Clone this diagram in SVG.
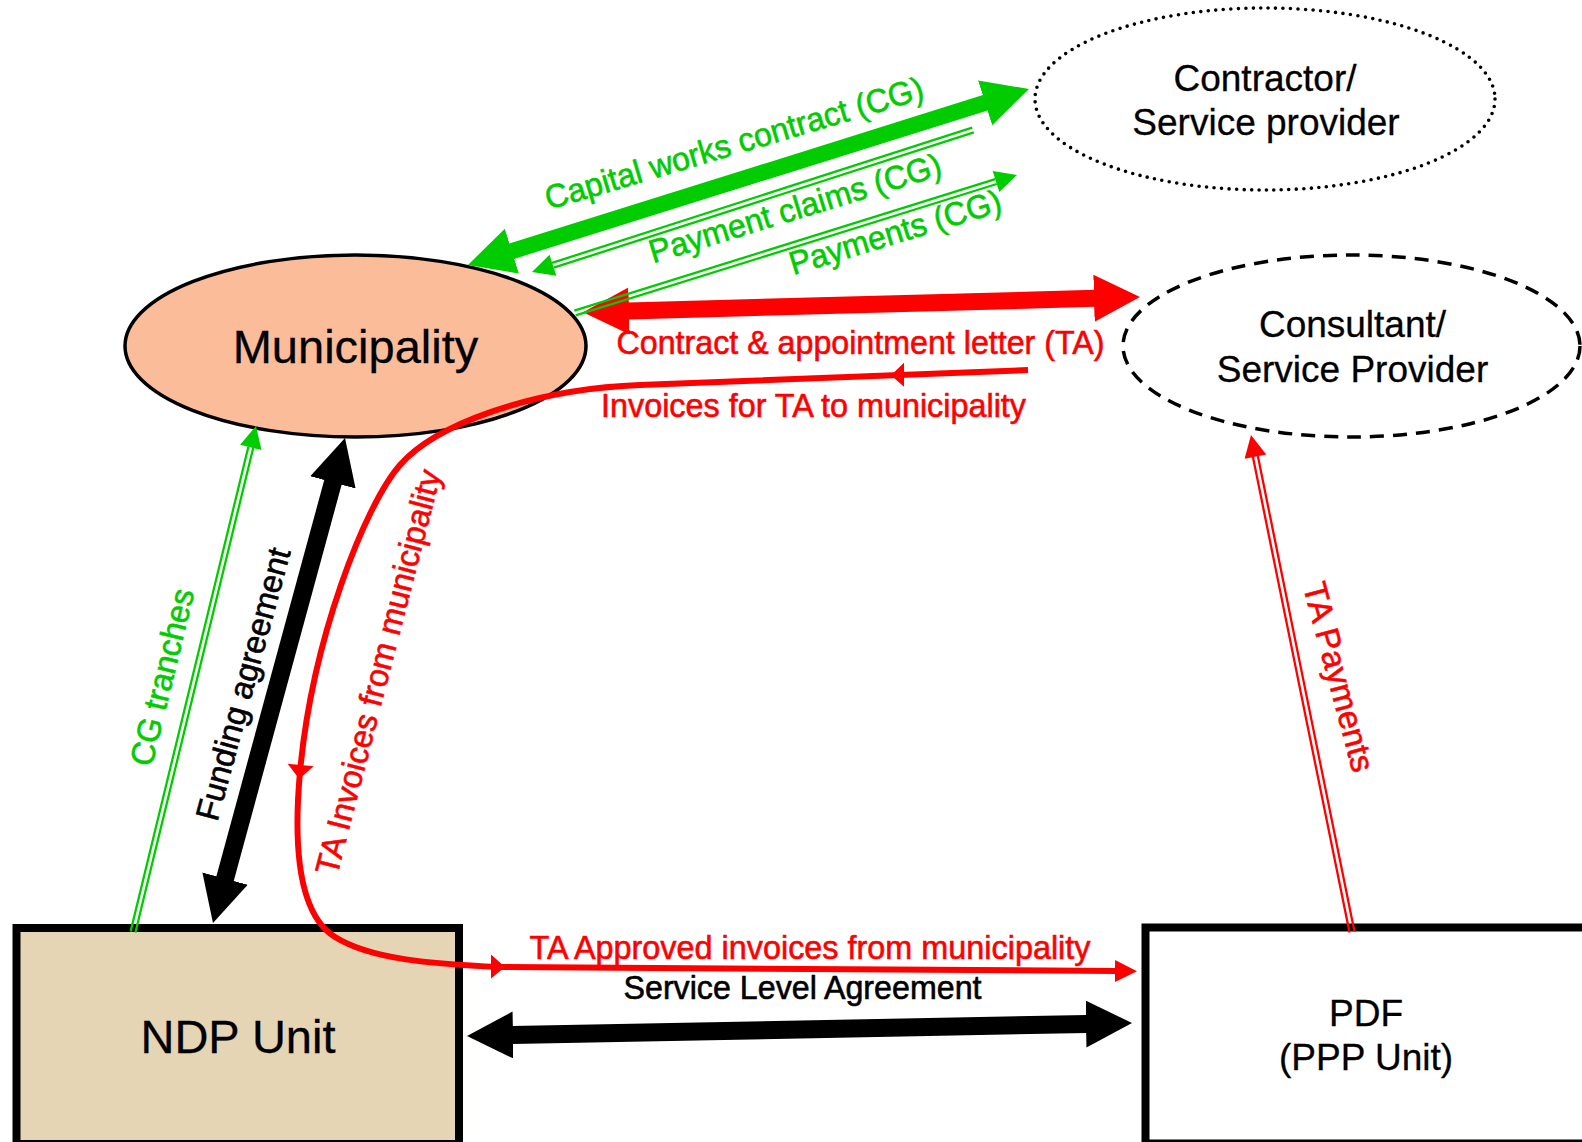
<svg xmlns="http://www.w3.org/2000/svg" width="1582" height="1142" viewBox="0 0 1582 1142">
  <style>
    text { font-family: "Liberation Sans", Arial, Helvetica, sans-serif; text-anchor: middle; }
    .big { font-size: 47px; fill: #000; stroke: #000; stroke-width: 0.3; }
    .mid { font-size: 37px; fill: #000; stroke: #000; stroke-width: 0.3; }
    .lbl { font-size: 33px; stroke-width: 0.6; }
    .g { fill: #00CC00; stroke: #00CC00; }
    .r { fill: #FF0000; stroke: #FF0000; }
    .k { fill: #000; stroke: #000; }
    polygon.g, polygon.r { stroke: none; }
    .shaft-g { fill: none; stroke: #00CC00; stroke-width: 16; }
    .shaft-r { fill: none; stroke: #FF0000; stroke-width: 17; }
    .shaft-k { fill: none; stroke: #000; stroke-width: 18; }
    .thin-g { fill: none; stroke: #00CC00; stroke-width: 2.3; }
    .thin-r { fill: none; stroke: #FF0000; stroke-width: 2.3; }
    .curve-r { fill: none; stroke: #FF0000; stroke-width: 6; }
  </style>
  <defs>
    <marker id="head-g" markerUnits="userSpaceOnUse" viewBox="0 -24 46 48" markerWidth="46" markerHeight="48" refX="1" refY="0" orient="auto-start-reverse">
      <path d="M0,-23.5 L46,0 L0,23.5 Z" fill="#00CC00"/>
    </marker>
    <marker id="head-r" markerUnits="userSpaceOnUse" viewBox="0 -24 46 48" markerWidth="46" markerHeight="48" refX="1" refY="0" orient="auto-start-reverse">
      <path d="M0,-23.5 L46,0 L0,23.5 Z" fill="#FF0000"/>
    </marker>
    <marker id="head-k" markerUnits="userSpaceOnUse" viewBox="0 -24 46 48" markerWidth="46" markerHeight="48" refX="1" refY="0" orient="auto-start-reverse">
      <path d="M0,-23.5 L46,0 L0,23.5 Z" fill="#000"/>
    </marker>
    <marker id="tip-r" markerUnits="userSpaceOnUse" viewBox="0 -12 22 24" markerWidth="22" markerHeight="24" refX="1" refY="0" orient="auto">
      <path d="M0,-11 L22,0 L0,11 Z" fill="#FF0000"/>
    </marker>
  </defs>

  <rect width="1582" height="1142" fill="#fff"/>

  <!-- nodes -->
  <g id="municipality">
    <ellipse cx="355.5" cy="346" rx="230.5" ry="91" fill="#FBBC9A" stroke="#000" stroke-width="3.5"/>
    <text class="big" x="355.5" y="363">Municipality</text>
  </g>
  <g id="contractor">
    <ellipse cx="1265" cy="99" rx="230" ry="91" fill="none" stroke="#000" stroke-width="3.6" stroke-dasharray="0 7.5" stroke-linecap="round"/>
    <text class="mid" x="1265" y="91">Contractor/</text>
    <text class="mid" x="1266" y="135">Service provider</text>
  </g>
  <g id="consultant">
    <ellipse cx="1351.5" cy="346" rx="228.5" ry="91" fill="none" stroke="#000" stroke-width="3.5" stroke-dasharray="14 9"/>
    <text class="mid" x="1352.5" y="337">Consultant/</text>
    <text class="mid" x="1352.5" y="382">Service Provider</text>
  </g>
  <g id="ndp-unit">
    <rect x="16.5" y="928" width="442.5" height="216" fill="#E5D5B4" stroke="#000" stroke-width="8"/>
    <text class="big" x="238" y="1053">NDP Unit</text>
  </g>
  <g id="pdf">
    <rect x="1145.5" y="927.5" width="450" height="216" fill="#fff" stroke="#000" stroke-width="8"/>
    <text class="mid" x="1366" y="1026">PDF</text>
    <text class="mid" x="1366" y="1070">(PPP Unit)</text>
  </g>

  <!-- connectors -->
  <g id="connectors">
    <!-- contract & appointment letter (TA) -->
    <path class="shaft-r" d="M628,311 L1095,298.3" marker-start="url(#head-r)" marker-end="url(#head-r)"/>

    <!-- capital works contract (CG) -->
    <path class="shaft-g" d="M510.9,251.5 L986.1,102.5" marker-start="url(#head-g)" marker-end="url(#head-g)"/>

    <!-- payment claims (CG): contractor to municipality -->
    <path class="thin-g" d="M973.8,132.4 L553.7,267.7 M972.2,127.6 L552.1,262.9"/>
    <polygon class="g" points="532,272 556.3,275.8 549.5,254.8"/>

    <!-- payments (CG): municipality to contractor -->
    <path class="thin-g" d="M575.7,315.4 L996.7,184 M574.3,310.6 L995.3,179.2"/>
    <polygon class="g" points="1017,175 999.3,192.1 992.7,171.1"/>

    <!-- TA invoices: consultant to municipality to NDP unit to PDF -->
    <path class="curve-r" d="M1028,370 L640,385 C530,389.3 435,425 400,465 C365,505 312,640 300,772 C292.8,851 300,915 335,937 C370,959 430,964 500,967 L1116,971" marker-end="url(#tip-r)"/>
    <polygon class="r" points="891,375.3 904,362.8 904,386.8"/>
    <polygon class="r" points="299.3,779 313.6,766.2 287.6,763.8"/>
    <polygon class="r" points="505,967 491,954.5 491,978.5"/>

    <!-- funding agreement -->
    <path class="shaft-k" d="M333.2,481.4 L224.8,879.6" marker-start="url(#head-k)" marker-end="url(#head-k)"/>

    <!-- CG tranches -->
    <path class="thin-g" d="M135.4,932.6 L253.2,448 M130.6,931.4 L248.4,446.8"/>
    <polygon class="g" points="256,426 261.5,450 240.1,444.8"/>

    <!-- service level agreement -->
    <path class="shaft-k" d="M512,1035.1 L1087,1023.9" marker-start="url(#head-k)" marker-end="url(#head-k)"/>

    <!-- TA payments -->
    <path class="thin-r" d="M1354.45,931.5 L1257.85,456.1 M1349.55,932.5 L1252.95,457.1"/>
    <polygon class="r" points="1251,435 1266.2,454.4 1244.6,458.8"/>
  </g>

  <!-- connector labels -->
  <g id="labels">
    <text class="lbl g" transform="translate(734,143) rotate(-16.5)" y="11.5" textLength="393" lengthAdjust="spacingAndGlyphs">Capital works contract (CG)</text>
    <text class="lbl g" transform="translate(795,208) rotate(-17)" y="11.5" textLength="304" lengthAdjust="spacingAndGlyphs">Payment claims (CG)</text>
    <text class="lbl g" transform="translate(895,232) rotate(-17)" y="11.5" textLength="220" lengthAdjust="spacingAndGlyphs">Payments (CG)</text>
    <text class="lbl r" x="860.5" y="354" textLength="488" lengthAdjust="spacingAndGlyphs">Contract &amp; appointment letter (TA)</text>
    <text class="lbl r" x="813.5" y="417" textLength="425" lengthAdjust="spacingAndGlyphs">Invoices for TA to municipality</text>
    <text class="lbl g" transform="translate(162,677) rotate(-76.3)" y="11.5" textLength="181" lengthAdjust="spacingAndGlyphs">CG tranches</text>
    <text class="lbl k" transform="translate(243,684) rotate(-74.8)" y="11.5" textLength="281" lengthAdjust="spacingAndGlyphs">Funding agreement</text>
    <text class="lbl r" transform="translate(378,672) rotate(-75.5)" y="11.5" textLength="417" lengthAdjust="spacingAndGlyphs">TA Invoices from municipality</text>
    <text class="lbl r" transform="translate(1339,677) rotate(75)" y="11.5" textLength="195" lengthAdjust="spacingAndGlyphs">TA Payments</text>
    <text class="lbl r" x="810" y="959" textLength="561" lengthAdjust="spacingAndGlyphs">TA Approved invoices from municipality</text>
    <text class="lbl k" x="802.5" y="999" textLength="358" lengthAdjust="spacingAndGlyphs">Service Level Agreement</text>
  </g>
</svg>
